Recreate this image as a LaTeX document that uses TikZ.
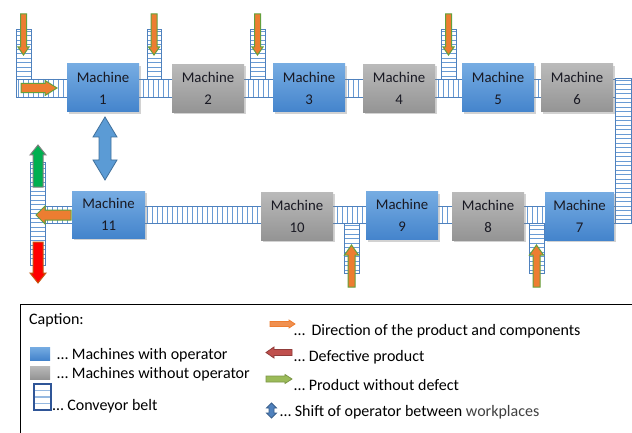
\documentclass[tikz,border=0pt]{standalone}
\usepackage{fontspec}
\setmainfont{Carlito}
\usetikzlibrary{shadows}
\definecolor{mbt}{RGB}{118,172,226}
\definecolor{mbb}{RGB}{68,132,204}
\definecolor{mgt}{RGB}{186,186,186}
\definecolor{mgb}{RGB}{148,148,148}
\definecolor{beltc}{RGB}{79,129,189}
\definecolor{stripec}{RGB}{105,155,212}
\definecolor{orangef}{RGB}{237,125,49}
\definecolor{greeno}{RGB}{100,160,60}
\definecolor{greenf}{RGB}{0,176,80}
\definecolor{redf}{RGB}{255,0,0}
\definecolor{redo}{RGB}{197,90,17}
\definecolor{bluef}{RGB}{91,155,213}
\definecolor{blueo}{RGB}{65,113,156}
\definecolor{lgred}{RGB}{192,80,77}
\definecolor{lggreen}{RGB}{155,187,89}
\definecolor{lgblue}{RGB}{79,129,189}
\definecolor{iconblue}{RGB}{47,85,151}
\definecolor{mtext}{RGB}{25,25,35}

\newcommand{\hbelt}[4]{%
  \fill[white] (#1,#2) rectangle (#3,#4);
  \pgfmathtruncatemacro\beltn{(#3-#1)/5}
  \foreach \i in {1,...,\beltn} \draw[stripe] ({#1+\i*5-2.5},#2) -- ({#1+\i*5-2.5},#4);
  \draw[beltline] (#1,#2) rectangle (#3,#4);}
\newcommand{\vbelt}[4]{%
  \fill[white] (#1,#2) rectangle (#3,#4);
  \pgfmathtruncatemacro\beltn{(#4-#2)/4.5}
  \foreach \i in {1,...,\beltn} \draw[stripe] (#1,{#2+\i*4.5-2.25}) -- (#3,{#2+\i*4.5-2.25});
  \draw[beltline] (#1,#2) rectangle (#3,#4);}
% style, x, y, angle, length, shaft half width, head half width, head length
\newcommand{\barrow}[8]{%
  \begin{scope}[shift={(#2,#3)},rotate=#4]
  \draw[#1] (0,-#6) -- ({#5-#8},-#6) -- ({#5-#8},-#7) -- (#5,0) -- ({#5-#8},#7) -- ({#5-#8},#6) -- (0,#6) -- cycle;
  \end{scope}}
\newcommand{\dbarrow}[8]{%
  \begin{scope}[shift={(#2,#3)},rotate=#4]
  \draw[#1] (0,0) -- (#8,#7) -- (#8,#6) -- ({#5-#8},#6) -- ({#5-#8},#7) -- (#5,0) -- ({#5-#8},-#7) -- ({#5-#8},-#6) -- (#8,-#6) -- (#8,-#7) -- cycle;
  \end{scope}}

\tikzset{
  stripe/.style={draw=stripec, line width=0.6pt},
  beltline/.style={draw=beltc, line width=0.8pt},
  machine/.style={rectangle, minimum width=72pt, minimum height=48pt, inner sep=0pt,
    font=\fontsize{14.8}{22}\selectfont, align=center, text=mtext,
    drop shadow={shadow xshift=1.5pt, shadow yshift=-2pt, opacity=0.35}},
  opm/.style={machine, top color=mbt, bottom color=mbb},
  nopm/.style={machine, top color=mgt, bottom color=mgb},
  ofeed/.style={fill=orangef, draw=greeno, line width=1pt},
  gout/.style={fill=greenf, draw=gray, line width=1pt},
  rout/.style={fill=redf, draw=redo, line width=1pt},
  bout/.style={fill=bluef, draw=blueo, line width=0.8pt},
  lgo/.style={fill=orangef!85!white, draw=orangef, line width=0.8pt},
  lgr/.style={fill=lgred, draw=lgred!75!black, line width=0.8pt},
  lgg/.style={fill=lggreen, draw=lggreen!80!black, line width=0.8pt},
  lgb/.style={fill=lgblue, draw=lgblue!75!black, line width=0.8pt},
  lgtext/.style={anchor=west, inner sep=0pt, font=\fontsize{16}{18}\selectfont, text=black}
}

\begin{document}
\begin{tikzpicture}[x=1pt,y=-1pt]
\useasboundingbox (0,0) rectangle (632,433);
\fill[white] (0,0) rectangle (632,433);

% conveyor belts
\hbelt{16}{79}{615}{97}
\vbelt{615}{78}{631}{223}
\hbelt{45}{206}{615}{223}
\vbelt{30}{162}{45}{265}
\vbelt{16}{29}{31}{79}
\vbelt{147}{29}{161}{79}
\vbelt{250}{29}{265}{79}
\vbelt{441}{29}{456}{79}
\vbelt{344}{223}{359}{273}
\vbelt{529}{223}{544}{273}

% machines
\node[opm]  (m1)  at (103,88)    {Machine\\1};
\node[nopm] (m2)  at (208,88.5)  {Machine\\2};
\node[opm]  (m3)  at (309,88)    {Machine\\3};
\node[nopm] (m4)  at (399,88.5)  {Machine\\4};
\node[opm]  (m5)  at (498,88)    {Machine\\5};
\node[nopm] (m6)  at (577,88)    {Machine\\6};
\node[opm, minimum width=69pt] (m7) at (579.5,216) {Machine\\7};
\node[nopm] (m8)  at (488,216)   {Machine\\8};
\node[opm]  (m9)  at (402,215.5) {Machine\\9};
\node[nopm] (m10) at (297,216)   {Machine\\10};
\node[opm, minimum width=73pt, minimum height=47pt] (m11) at (108.5,214.5) {Machine\\11};

% flow arrows
\barrow{ofeed}{23.5}{14}{270}{41}{3}{5.5}{8}
\barrow{ofeed}{154}{14}{270}{41}{3}{5.5}{8}
\barrow{ofeed}{257.5}{14}{270}{41}{3}{5.5}{8}
\barrow{ofeed}{448.5}{14}{270}{41}{3}{5.5}{8}
\barrow{ofeed}{351.5}{287}{90}{42}{3.5}{7}{10}
\barrow{ofeed}{536.5}{287}{90}{42}{3.5}{7}{10}
\barrow{ofeed}{21}{88}{0}{36}{4.7}{7.5}{12}
\barrow{ofeed}{71}{215}{180}{35}{5}{9}{9}
\barrow{gout}{38}{187}{90}{42}{5}{8}{10}
\barrow{rout}{38}{242}{270}{41}{5}{8}{10}
\dbarrow{bout}{105}{117}{270}{63}{6}{12}{20}

% legend
\draw[black, line width=0.8pt] (632,304) -- (20,304) -- (20,433);
\node[lgtext] (cap) at (29,320) {Caption:};
\shade[top color=mbt, bottom color=mbb] (30,347) rectangle (50,360);
\node[lgtext] (l1) at (57,355) {… Machines with operator};
\shade[top color=mgt, bottom color=mgb] (30,366) rectangle (50,379);
\node[lgtext] (l2) at (57,374) {… Machines without operator};
\fill[white] (34,384) rectangle (51,410);
\foreach \yy in {390.5,397,403.5} \draw[stripec!70!white, line width=1.6pt] (34,\yy) -- (51,\yy);
\draw[iconblue, line width=2.2pt] (34,384) rectangle (51,410);
\node[lgtext] (l3) at (52.5,406) {… Conveyor belt};

\barrow{lgo}{270}{324}{0}{25}{2.5}{4}{6}
\node[lgtext] (l4) at (294,331) {…\, Direction of the product and components};
\barrow{lgr}{292}{352.5}{180}{26}{3}{5.5}{8}
\node[lgtext] (l5) at (294,357) {… Defective product};
\barrow{lgg}{266}{379}{0}{26}{3}{4.5}{7}
\node[lgtext] (l6) at (294,385) {… Product without defect};
\dbarrow{lgb}{271.5}{403}{270}{15}{2.5}{5}{5}
\node[lgtext] (l7) at (280,412) {… Shift of operator between \textcolor{black!75}{workplaces}};
\end{tikzpicture}
\end{document}
